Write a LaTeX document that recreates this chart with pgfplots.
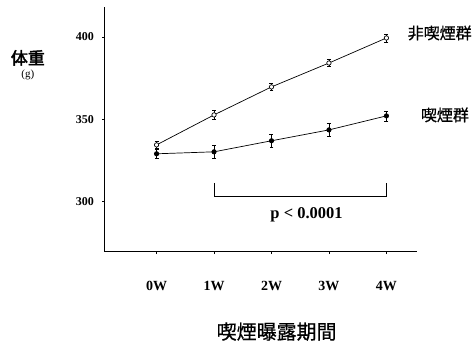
\documentclass[border=0pt]{standalone}
\usepackage{pgfplots}
\pgfplotsset{compat=1.18}
\usepackage{fontspec}
\setmainfont{Liberation Serif}
\newfontfamily\cjk[FakeBold=0.8]{Noto Sans CJK JP}
\newfontfamily\cjkb[FakeBold=2.5]{Noto Sans CJK JP}
\begin{document}
\begin{tikzpicture}
\begin{axis}[
 scale only axis, width=313pt, height=245pt,
 xmin=-0.9, xmax=4.54, ymin=269.7, ymax=418.2,
 axis x line*=bottom, axis y line*=left,
 axis line style={-, line width=1.1pt},
 xtick={0,1,2,3,4}, xticklabels={0W,1W,2W,3W,4W},
 ytick={300,350,400},
 tick align=outside, major tick length=2.5pt,
 tick style={black, line width=0.8pt},
 x tick label style={font=\fontsize{14}{14}\selectfont\bfseries, yshift=-24pt},
 y tick label style={font=\fontsize{12}{12}\selectfont\bfseries, xshift=-5pt},
 /pgf/number format/assume math mode=true,
 clip=false,
]
\addplot[black, line width=0.7pt, mark=*, mark size=2.2pt,
  error bars/.cd, y dir=both, y explicit,
  error bar style={line width=0.6pt},
  error mark options={rotate=90, mark size=2pt, line width=0.6pt}]
 table[x=x, y=y, y error=e] {
 x y e
 0 329.1 3
 1 330.3 4
 2 337.0 4
 3 343.6 4
 4 352.1 3
 };
\addplot[black, line width=0.7pt, mark=*, mark size=2.2pt, mark options={fill=white},
  error bars/.cd, y dir=both, y explicit,
  error bar style={line width=0.6pt},
  error mark options={rotate=90, mark size=2pt, line width=0.6pt}]
 table[x=x, y=y, y error=e] {
 x y e
 0 334.5 2
 1 352.7 2.5
 2 369.7 2
 3 384.2 2
 4 399.4 2.5
 };
\draw[black, line width=0.9pt] (axis cs:1,311.5) -- (axis cs:1,303) -- (axis cs:4,303) -- (axis cs:4,311.5);
\node[font=\fontsize{16.5}{16.5}\selectfont\bfseries] at (axis cs:2.61,292.1) {p < 0.0001};
\node[anchor=west, font=\fontsize{16}{16}\selectfont\cjk] at (axis cs:4.31,402.4) {非喫煙群};
\node[anchor=west, font=\fontsize{16}{16}\selectfont\cjk] at (axis cs:4.54,352.7) {喫煙群};
\node[font=\fontsize{17}{17}\selectfont\cjkb] at (axis cs:-2.24,387.3) {体重};
\node[font=\fontsize{11}{11}\selectfont] at (axis cs:-2.24,377) {(g)};
\node[font=\fontsize{20}{20}\selectfont\cjk] at (axis cs:2.09,221.2) {喫煙曝露期間};
\end{axis}
\path ([xshift=-105pt,yshift=-95pt]current axis.south west) rectangle ([xshift=57pt,yshift=7pt]current axis.north east);
\end{tikzpicture}
\end{document}
